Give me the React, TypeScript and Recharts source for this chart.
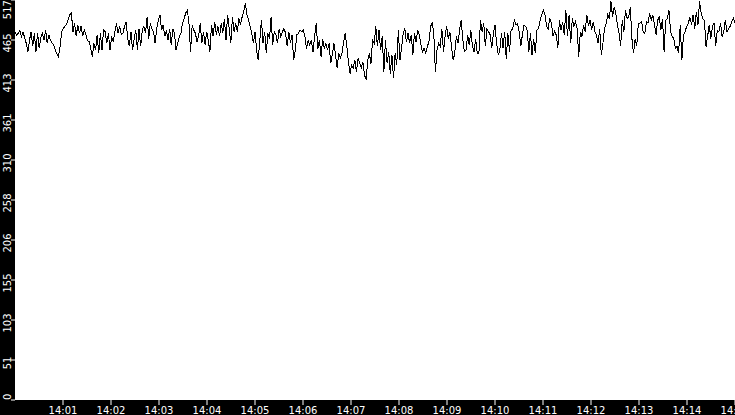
import React from 'react'
import { LineChart, Line, XAxis, YAxis, CartesianGrid } from 'recharts'

// samples, 8 slices of 112.5 s each (14:00:00 -> 14:15:00)
const seg1 = [476, 472, 474, 478, 470, 476, 468, 461, 450, 465, 476, 457, 474, 450, 474, 455, 468, 474, 465, 478, 461, 472, 465, 461, 459, 452, 448, 444, 457, 476, 480, 483, 485, 492, 498, 500, 476, 487, 470, 485, 474, 483, 470, 478, 472, 465, 463, 455, 444, 461, 452, 472, 448, 474, 452, 478]
const seg2 = [476, 461, 474, 452, 470, 463, 476, 487, 474, 483, 472, 474, 483, 489, 467, 457, 476, 452, 467, 478, 452, 480, 457, 478, 483, 474, 495, 467, 487, 480, 476, 461, 480, 491, 498, 478, 485, 470, 478, 465, 480, 459, 480, 474, 452, 461, 470, 474, 487, 493, 500, 504, 487, 450, 485, 478]
const seg3 = [474, 463, 470, 487, 461, 476, 459, 476, 465, 450, 485, 470, 489, 472, 483, 470, 487, 474, 493, 465, 498, 480, 461, 495, 476, 487, 476, 493, 485, 495, 502, 513, 498, 491, 483, 474, 461, 476, 452, 439, 465, 491, 461, 476, 448, 474, 467, 495, 459, 476, 472, 461, 480, 470, 476, 480]
const seg4 = [474, 457, 476, 461, 472, 439, 452, 472, 474, 478, 476, 478, 470, 454, 465, 459, 465, 450, 470, 487, 454, 465, 444, 467, 454, 461, 452, 461, 435, 446, 461, 446, 429, 448, 442, 448, 463, 474, 457, 437, 422, 433, 429, 439, 424, 442, 435, 429, 437, 420, 414, 439, 448, 435, 465, 461]
const seg5 = [483, 457, 478, 452, 470, 424, 465, 435, 450, 422, 446, 416, 448, 433, 478, 439, 455, 474, 480, 463, 474, 461, 472, 446, 474, 463, 478, 472, 459, 450, 455, 448, 457, 463, 483, 487, 474, 424, 452, 461, 457, 480, 450, 470, 483, 467, 476, 457, 439, 448, 470, 461, 478, 491, 467, 450]
const seg6 = [452, 472, 459, 478, 457, 450, 467, 448, 448, 491, 476, 487, 457, 480, 476, 472, 455, 474, 485, 461, 446, 452, 474, 455, 476, 441, 474, 450, 478, 480, 491, 485, 487, 476, 457, 472, 485, 483, 478, 450, 474, 446, 467, 448, 478, 480, 491, 498, 504, 498, 483, 480, 493, 487, 470, 476]
const seg7 = [472, 455, 491, 478, 489, 472, 504, 470, 498, 461, 493, 483, 489, 480, 444, 476, 470, 485, 476, 498, 483, 491, 478, 489, 476, 472, 461, 480, 446, 461, 480, 487, 498, 493, 515, 495, 508, 500, 485, 474, 457, 491, 476, 504, 493, 495, 508, 467, 448, 467, 457, 487, 487, 489, 476, 474]
const seg8 = [489, 487, 500, 491, 498, 485, 472, 491, 495, 478, 493, 450, 491, 493, 504, 476, 470, 467, 455, 457, 448, 485, 439, 472, 476, 483, 487, 495, 485, 498, 480, 502, 485, 515, 500, 493, 491, 457, 470, 485, 467, 483, 487, 457, 478, 476, 487, 470, 476, 491, 476, 480, 483, 489, 493, 487]

const values = [...seg1, ...seg2, ...seg3, ...seg4, ...seg5, ...seg6, ...seg7, ...seg8]

// minutes after 14:00
const xTicks = [1, 2, 3, 4, 5, 6, 7, 8, 9, 10, 11, 12, 13, 14, 15]
const xTickLabels = ['14:01', '14:02', '14:03', '14:04', '14:05', '14:06', '14:07', '14:08', '14:09', '14:10', '14:11', '14:12', '14:13', '14:14', '14:15']
const yTicks = [0, 51.7, 103.4, 155.1, 206.8, 258.5, 310.2, 361.9, 413.6, 465.3, 517]

const data = values.map((v, i) => ({ m: (i * 15) / (values.length - 1), v }))

const FONT = '"DejaVu Sans", Verdana, sans-serif'

// rotated y labels, kept inside the strip like the original
const YTick = (props: any) => {
  const { y, payload } = props
  const label = String(Math.floor(payload.value))
  const half = (label.length * 6.4) / 2
  const c = Math.max(half, Math.min(400 - half, y + 3))
  return (
    <text transform={`translate(10.5,${c}) rotate(-90)`} textAnchor="middle" fill="#fff" fontSize={10} fontFamily={FONT}>
      {label}
    </text>
  )
}

export default function App() {
  return (
    <div style={{ position: 'absolute', left: 0, top: 0, width: 735, height: 415, background: '#000' }}>
      <LineChart width={735} height={415} data={data} margin={{ top: 0, right: 0, left: 0, bottom: 0 }}>
        <CartesianGrid horizontal={false} vertical={false} fill="#fff" stroke="none" />
        <XAxis
          type="number"
          dataKey="m"
          domain={[0, 15]}
          ticks={xTicks}
          interval={0}
          height={15}
          axisLine={false}
          tickLine={{ stroke: '#fff' }}
          tickSize={5}
          tickMargin={2}
          tickFormatter={(m: number) => xTickLabels[xTicks.indexOf(m)]}
          tick={{ fill: '#fff', fontSize: 10, fontFamily: FONT }}
        />
        <YAxis
          type="number"
          domain={[0, 517]}
          ticks={yTicks}
          interval={0}
          width={15}
          axisLine={false}
          tickLine={{ stroke: '#fff' }}
          tickSize={4}
          tick={<YTick />}
        />
        <Line
          type="linear"
          dataKey="v"
          stroke="#000"
          strokeWidth={1}
          shapeRendering="crispEdges"
          dot={false}
          isAnimationActive={false}
        />
      </LineChart>
    </div>
  )
}
